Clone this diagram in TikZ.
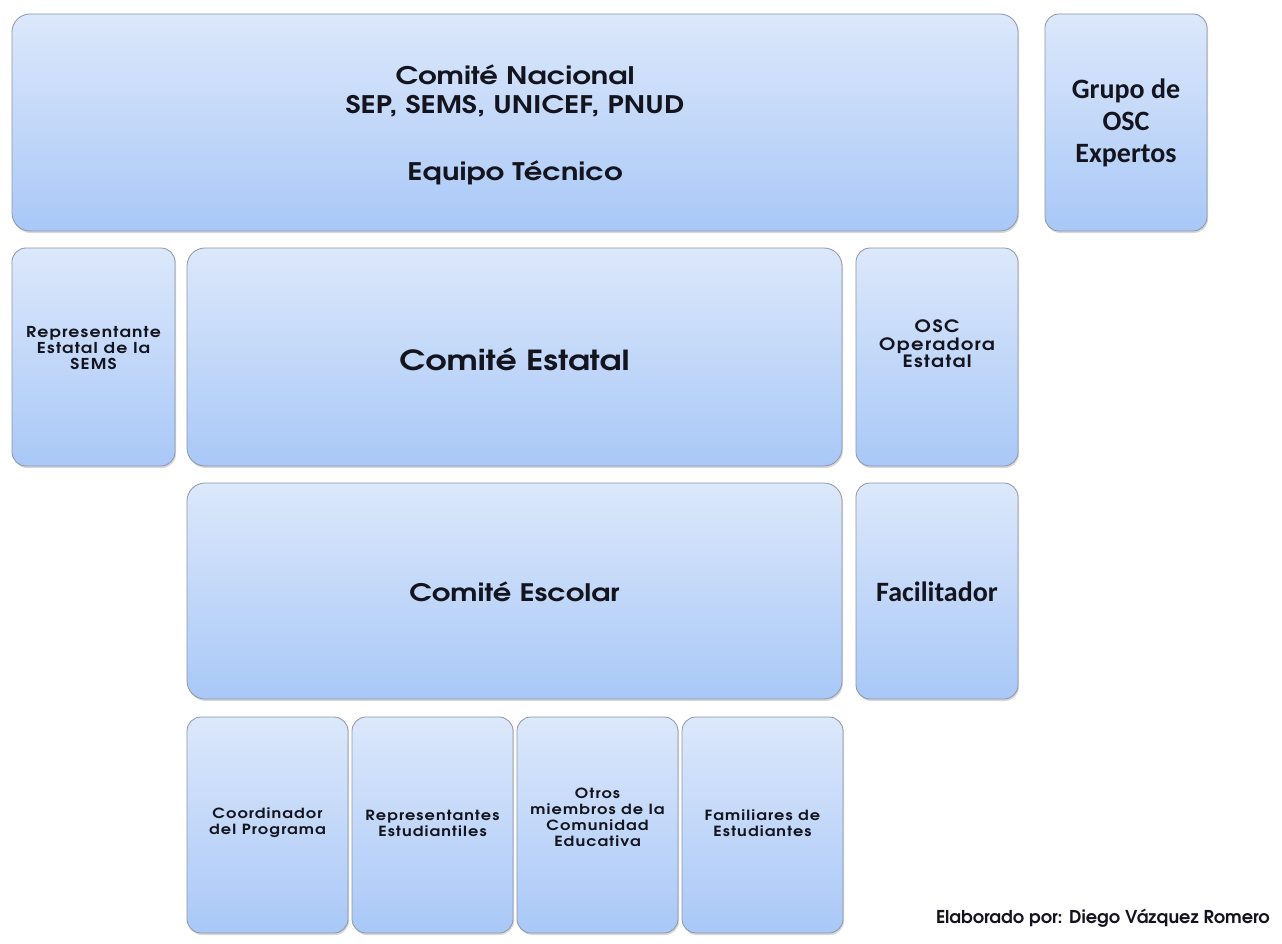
\documentclass[tikz,border=0pt]{standalone}
\usepackage{fontspec}
\newfontfamily\cgb{texgyreadventor-bold.otf}
\newfontfamily\cgw{texgyreadventor-bold.otf}[FakeStretch=1.2]
\newfontfamily\cgs{texgyreadventor-bold.otf}[FakeStretch=1.15, LetterSpace=8]
\newfontfamily\calib{Carlito}
\usetikzlibrary{shadows}
\definecolor{btop}{HTML}{DCE8FB}
\definecolor{bbot}{HTML}{A9C8F7}
\definecolor{bedge}{HTML}{8C96A8}
\definecolor{txt}{HTML}{14141E}
\tikzset{
  box/.style={rectangle, rounded corners=18pt, draw=bedge, line width=0.8pt,
    top color=btop, bottom color=bbot, inner sep=0pt,
    drop shadow={shadow xshift=1pt, shadow yshift=-2pt, opacity=0.25, fill=black!60}},
  sbox/.style={box, rounded corners=14pt},
  lbl/.style={text=txt, align=center, inner sep=0pt}
}
\begin{document}
\begin{tikzpicture}[x=1pt,y=-1pt]
\useasboundingbox (0,0) rectangle (1282,944);
\fill[white] (0,0) rectangle (1282,944);
% Row 1
\node[box, minimum width=1006pt, minimum height=217pt] (nac) at (515,122.5) {};
\node[lbl, font=\cgw\fontsize{24.2}{29}\selectfont] (nact) at (515,124.5) {Comité Nacional\\SEP, SEMS, UNICEF, PNUD\\[38pt]Equipo Técnico};
\node[sbox, minimum width=162pt, minimum height=217pt] (gru) at (1126,122.5) {};
\node[lbl, font=\calib\bfseries\fontsize{28}{32}\selectfont] (grut) at (1126,122.5) {Grupo de\\OSC\\Expertos};
% Row 2
\node[sbox, minimum width=163pt, minimum height=218pt] (rep) at (93.5,357) {};
\node[lbl, font=\cgs\fontsize{15}{16}\selectfont] (rept) at (93.5,348) {Representante\\Estatal de la\\SEMS};
\node[box, minimum width=655pt, minimum height=218pt] (est) at (514.5,357) {};
\node[lbl, font=\cgw\fontsize{27.7}{30}\selectfont] (estt) at (514.5,359) {Comité Estatal};
\node[sbox, minimum width=162pt, minimum height=218pt] (ope) at (937,357) {};
\node[lbl, font=\cgs\fontsize{17}{17.5}\selectfont] (opet) at (937,344) {OSC\\Operadora\\Estatal};
% Row 3
\node[box, minimum width=655pt, minimum height=216pt] (esc) at (514.5,591) {};
\node[lbl, font=\cgw\fontsize{24.1}{28}\selectfont] (esct) at (514.5,592) {Comité Escolar};
\node[sbox, minimum width=162pt, minimum height=216pt] (fac) at (937,591) {};
\node[lbl, font=\calib\bfseries\fontsize{28}{30}\selectfont] (fact) at (937,592) {Facilitador};
% Row 4
\node[sbox, minimum width=161pt, minimum height=216pt] (coo) at (267.5,825) {};
\node[lbl, font=\cgs\fontsize{14}{16}\selectfont] (coot) at (267.5,823) {Coordinador\\del Programa};
\node[sbox, minimum width=161pt, minimum height=216pt] (res) at (432.5,825) {};
\node[lbl, font=\cgs\fontsize{14}{16}\selectfont] (rest) at (432.5,823) {Representantes\\Estudiantiles};
\node[sbox, minimum width=161pt, minimum height=216pt] (otr) at (597.5,825) {};
\node[lbl, font=\cgs\fontsize{14}{16}\selectfont] (otrt) at (597.5,817) {Otros\\miembros de la\\Comunidad\\Educativa};
\node[sbox, minimum width=161pt, minimum height=216pt] (fam) at (762.5,825) {};
\node[lbl, font=\cgs\fontsize{14}{16}\selectfont] (famt) at (762.5,823) {Familiares de\\Estudiantes};
% Footer
\node[lbl, anchor=east, font=\cgb\fontsize{17.7}{20}\selectfont] (foot) at (1270,918) {Elaborado por: Diego Vázquez Romero};
\end{tikzpicture}
\end{document}
